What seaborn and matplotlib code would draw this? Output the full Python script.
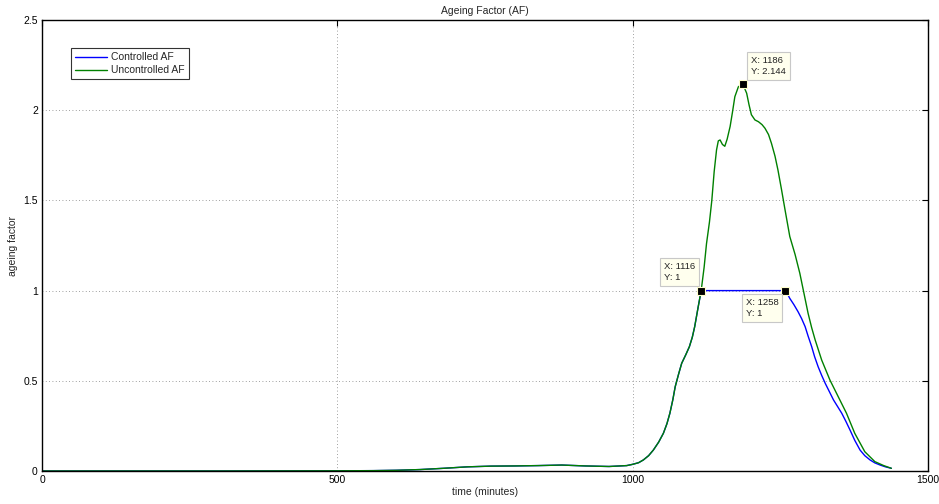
import numpy as np
import pandas as pd
import matplotlib
matplotlib.use("Agg")
import matplotlib.pyplot as plt
from matplotlib.lines import Line2D
import seaborn as sns

# Shared part of both curves (identical until the controller kicks in)
rise_t = [0, 300, 500, 560, 600, 640, 680, 720, 760, 800, 840, 880, 920, 960,
          990, 1000, 1010, 1018, 1027, 1035, 1044, 1052, 1058, 1063, 1068, 1072,
          1078, 1083, 1090, 1096, 1101, 1105, 1111, 1116]
rise_af = [0, 0, 0.001, 0.002, 0.004, 0.008, 0.015, 0.023, 0.027, 0.028, 0.030,
           0.033, 0.028, 0.025, 0.030, 0.037, 0.046, 0.061, 0.085, 0.116, 0.160,
           0.209, 0.262, 0.32, 0.395, 0.467, 0.540, 0.597, 0.645, 0.689, 0.742,
           0.80, 0.911, 1.0]

# Uncontrolled ageing factor after the shared segment
unc_t = [1121, 1125, 1130, 1134, 1138, 1142, 1145, 1148, 1152, 1156, 1160, 1165,
         1169, 1173, 1179, 1186, 1189, 1193, 1197, 1201, 1207, 1213, 1219, 1224,
         1230, 1235, 1241, 1246, 1252, 1258, 1266, 1275, 1283, 1290, 1297, 1303,
         1309, 1320, 1334, 1348, 1362, 1376, 1393, 1410, 1425, 1438]
unc_af = [1.13, 1.26, 1.38, 1.50, 1.66, 1.78, 1.83, 1.835, 1.81, 1.80, 1.84, 1.91,
          1.99, 2.075, 2.13, 2.144, 2.125, 2.094, 2.03, 1.975, 1.946, 1.936, 1.92,
          1.90, 1.865, 1.816, 1.745, 1.668, 1.56, 1.447, 1.30, 1.20, 1.096, 0.985,
          0.874, 0.795, 0.726, 0.615, 0.504, 0.412, 0.32, 0.209, 0.107, 0.052,
          0.030, 0.015]

# Controlled ageing factor: held at 1 then released
ctl_t = [1186, 1258, 1262, 1266, 1273, 1280, 1286, 1292, 1297, 1303, 1308, 1314,
         1320, 1326, 1333, 1340, 1347, 1354, 1361, 1368, 1376, 1385, 1393, 1402,
         1410, 1419, 1428, 1438]
ctl_af = [1.0, 1.0, 0.982, 0.957, 0.922, 0.883, 0.845, 0.80, 0.748, 0.69, 0.634,
          0.578, 0.530, 0.486, 0.440, 0.394, 0.357, 0.32, 0.275, 0.227, 0.170,
          0.116, 0.085, 0.061, 0.045, 0.033, 0.023, 0.015]

# Data tips shown on the chart
tip_x = [1116, 1186, 1258]
tip_y = [1, 2.144, 1]

series_names = ["Controlled AF", "Uncontrolled AF"]
series_colors = ["#0000ff", "#008000"]

df = pd.concat([
    pd.DataFrame({"time": rise_t + ctl_t, "af": rise_af + ctl_af,
                  "series": series_names[0]}),
    pd.DataFrame({"time": rise_t + unc_t, "af": rise_af + unc_af,
                  "series": series_names[1]}),
], ignore_index=True)

sns.set_style("white")
plt.rcParams["font.family"] = ["Liberation Sans", "DejaVu Sans"]

fig = plt.figure(figsize=(9.39, 5.04), dpi=100)
ax = fig.add_axes([42 / 939, 33 / 504, 886 / 939, 451 / 504])

sns.lineplot(data=df, x="time", y="af", hue="series", hue_order=series_names,
             palette=dict(zip(series_names, series_colors)), linewidth=1.0,
             ax=ax, legend=False, estimator=None, sort=True)

ax.set_xlim(0, 1500)
ax.set_ylim(0, 2.5)
ax.set_xticks([0, 500, 1000, 1500])
ax.set_yticks([0, 0.5, 1, 1.5, 2, 2.5])
ax.set_yticklabels(["0", "0.5", "1", "1.5", "2", "2.5"])
ax.grid(True, color="#808080", linestyle=(0, (1, 3)), linewidth=0.6)
ax.tick_params(direction="in", length=4, width=0.8, labelsize=7.5,
               top=True, right=True, colors="black", pad=3)
for s in ax.spines.values():
    s.set_color("black")
    s.set_linewidth(1.0)

ax.set_title("Ageing Factor (AF)", fontsize=7.5, pad=4)
ax.set_xlabel("time (minutes)", fontsize=7.5, labelpad=1)
ax.set_ylabel("ageing factor", fontsize=7.5, labelpad=4)

# Legend
handles = [Line2D([], [], color=c, linewidth=1.0) for c in series_colors]
leg = ax.legend(handles, series_names, loc="upper left",
                bbox_to_anchor=(29 / 886, 1 - 28 / 451), fontsize=7.5,
                frameon=True, fancybox=False, handlelength=3.1,
                handletextpad=0.35, borderpad=0.4, labelspacing=0.3,
                borderaxespad=0)
leg.get_frame().set_edgecolor("black")
leg.get_frame().set_linewidth(0.8)

# Data tip markers and boxes
offsets = [(-4.3, 6.2), (6.0, 5.7), (-4.7, -5.4)]
aligns = [("right", "bottom"), ("left", "bottom"), ("right", "top")]
for x, y, off, (ha, va) in zip(tip_x, tip_y, offsets, aligns):
    ax.plot([x], [y], marker="s", markersize=5.5, color="black",
            markeredgecolor="#ffffcc", markeredgewidth=0.8, zorder=5)
    ax.annotate(f"X: {x}\nY: {y:g}", xy=(x, y), xytext=off,
                textcoords="offset points", ha=ha, va=va, fontsize=6.8,
                multialignment="left", color="#222222", linespacing=1.3,
                bbox=dict(boxstyle="square,pad=0.42", facecolor="#ffffee",
                          edgecolor="#c8c8c8", linewidth=0.8), zorder=6)

fig.savefig("out.png", dpi=100)
